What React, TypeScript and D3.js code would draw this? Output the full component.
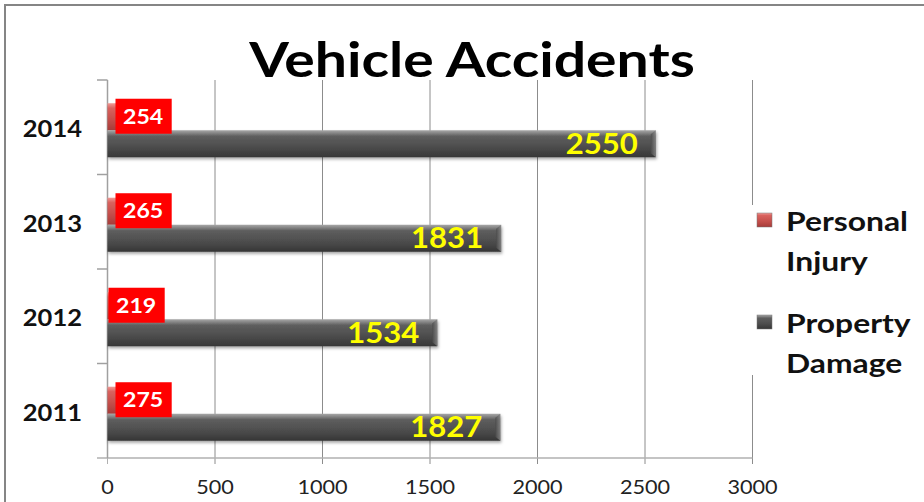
import React, { useEffect, useRef } from "react";
import * as d3 from "d3";

const years = ["2011", "2012", "2013", "2014"];
const personalInjury = [275, 219, 265, 254];
const propertyDamage = [1827, 1534, 1831, 2550];
const xTicks = [0, 500, 1000, 1500, 2000, 2500, 3000];
const seriesNames = [["Personal", "Injury"], ["Property", "Damage"]];
const title = "Vehicle Accidents";

const W = 924;
const H = 502;
const FONT = "Lato, 'Open Sans', sans-serif";
// label box left inset (px) per year, as placed in the original chart
const LABEL_INSET: Record<string, number> = { "2011": 8, "2012": 1, "2013": 8, "2014": 8 };

function stretch(sel: any, f: number) {
  sel.each(function (this: SVGTextElement) {
    const l = this.getComputedTextLength();
    this.setAttribute("textLength", String(l * f));
    this.setAttribute("lengthAdjust", "spacingAndGlyphs");
  });
}

export default function App() {
  const ref = useRef<SVGSVGElement | null>(null);

  useEffect(() => {
    const svg = d3.select(ref.current);
    svg.selectAll("*").remove();

    const defs = svg.append("defs");
    const gGray = defs.append("linearGradient").attr("id", "gGray").attr("x1", 0).attr("y1", 0).attr("x2", 0).attr("y2", 1);
    [["0%", "#a8a8a8"], ["12%", "#808080"], ["22%", "#5e5e5e"], ["60%", "#4e4e4e"], ["100%", "#363636"]].forEach(([o, c]) =>
      gGray.append("stop").attr("offset", o).attr("stop-color", c));
    const gRed = defs.append("linearGradient").attr("id", "gRed").attr("x1", 0).attr("y1", 0).attr("x2", 0).attr("y2", 1);
    [["0%", "#f09a96"], ["18%", "#d9625e"], ["60%", "#c44f4b"], ["100%", "#a63c39"]].forEach(([o, c]) =>
      gRed.append("stop").attr("offset", o).attr("stop-color", c));
    const gEnd = defs.append("linearGradient").attr("id", "gEnd").attr("x1", 0).attr("y1", 0).attr("x2", 1).attr("y2", 0);
    [["0%", "#4a4a4a"], ["100%", "#8a8a8a"]].forEach(([o, c]) =>
      gEnd.append("stop").attr("offset", o).attr("stop-color", c));
    const filt = defs.append("filter").attr("id", "shadow").attr("x", "-10%").attr("y", "-30%").attr("width", "120%").attr("height", "170%");
    filt.append("feDropShadow").attr("dx", 1).attr("dy", 2).attr("stdDeviation", 1.8).attr("flood-color", "#000").attr("flood-opacity", 0.35);

    // frame
    svg.append("rect").attr("x", 0).attr("y", 0).attr("width", W).attr("height", H).attr("fill", "#fff");
    svg.append("rect").attr("x", 5).attr("y", 5).attr("width", W + 20).attr("height", H + 20)
      .attr("fill", "#fff").attr("stroke", "#858585").attr("stroke-width", 2);

    const x = d3.scaleLinear().domain([0, 3000]).range([107.5, 752.5]);
    const y = d3.scaleBand().domain([...years].reverse()).range([80, 458]).paddingInner(0).paddingOuter(0);
    const step = y.step();
    const bh = step * 0.286;

    // gridlines
    svg.append("g").selectAll("line").data(xTicks.slice(1)).join("line")
      .attr("x1", (d) => x(d)).attr("x2", (d) => x(d)).attr("y1", 80).attr("y2", 464)
      .attr("stroke", "#8c8c8c").attr("stroke-width", 1);

    // x axis
    svg.append("line").attr("x1", 97).attr("x2", x(3000)).attr("y1", 458).attr("y2", 458)
      .attr("stroke", "#b0b0b0").attr("stroke-width", 1.5);
    svg.append("line").attr("x1", x(0)).attr("x2", x(0)).attr("y1", 458).attr("y2", 464).attr("stroke", "#b0b0b0");
    const tl = svg.append("g").selectAll("text").data(xTicks).join("text")
      .attr("x", (d) => x(d)).attr("y", 494).attr("text-anchor", "middle")
      .attr("font-family", FONT).attr("font-size", 18.5).attr("fill", "#222")
      .text((d) => String(d));
    stretch(tl, 1.17);

    // y axis
    svg.append("line").attr("x1", x(0)).attr("x2", x(0)).attr("y1", 80).attr("y2", 458)
      .attr("stroke", "#a0a0a0").attr("stroke-width", 1.5);
    const bounds = [...years].reverse().map((d) => y(d) as number);
    svg.append("g").selectAll("line").data(bounds).join("line")
      .attr("x1", 97).attr("x2", x(0)).attr("y1", (d) => d).attr("y2", (d) => d)
      .attr("stroke", "#a0a0a0").attr("stroke-width", 1.5);
    const yl = svg.append("g").selectAll("text").data(years).join("text")
      .attr("x", 82).attr("y", (d) => (y(d) as number) + step / 2 + 10)
      .attr("text-anchor", "end").attr("font-family", FONT).attr("font-weight", 700)
      .attr("font-size", 22).attr("fill", "#111").text((d) => d);
    stretch(yl, 1.16);

    const rows = years.map((yr, i) => ({ yr, pi: personalInjury[i], pd: propertyDamage[i] }));
    const cy = (d: { yr: string }) => (y(d.yr) as number) + step / 2 + 3;

    // bars
    const gb = svg.append("g");
    gb.selectAll("rect.red").data(rows).join("rect").attr("class", "red")
      .attr("x", x(0)).attr("y", (d) => cy(d) - bh).attr("width", (d) => x(d.pi) - x(0)).attr("height", bh)
      .attr("fill", "url(#gRed)").attr("filter", "url(#shadow)");
    gb.selectAll("rect.gray").data(rows).join("rect").attr("class", "gray")
      .attr("x", x(0)).attr("y", (d) => cy(d)).attr("width", (d) => x(d.pd) - x(0)).attr("height", bh)
      .attr("fill", "url(#gGray)").attr("filter", "url(#shadow)");
    // bevel at bar end
    gb.selectAll("path.end").data(rows).join("path").attr("class", "end")
      .attr("d", (d) => {
        const xe = x(d.pd), t = cy(d), b = t + bh;
        return `M${xe - 5},${t + 4} L${xe},${t} L${xe},${b} L${xe - 5},${b - 4} Z`;
      })
      .attr("fill", "url(#gEnd)").attr("opacity", 0.8);

    // red labels
    const lg = svg.append("g");
    rows.forEach((d) => {
      const g = lg.append("g");
      const inset = LABEL_INSET[d.yr];
      const rect = g.append("rect").attr("fill", "#ff0000");
      const t = g.append("text").attr("font-family", FONT).attr("font-weight", 700).attr("font-size", 21)
        .attr("fill", "#fff").attr("x", x(0) + inset + 7.5).attr("y", cy(d) - bh / 2 + 7).text(String(d.pi));
      const len = (t.node() as SVGTextElement).getComputedTextLength() * 1.1;
      stretch(t, 1.1);
      rect.attr("x", x(0) + inset).attr("y", cy(d) - bh / 2 - 18).attr("width", len + 16).attr("height", 35);
    });

    // yellow labels
    const yv = svg.append("g").selectAll("text").data(rows).join("text")
      .attr("x", (d) => x(d.pd) - 18).attr("y", (d) => cy(d) + bh / 2 + 10)
      .attr("text-anchor", "end").attr("font-family", FONT).attr("font-weight", 700)
      .attr("font-size", 28.5).attr("fill", "#ffff00").text((d) => String(d.pd));
    stretch(yv, 1.09);

    // legend
    svg.append("rect").attr("x", 750).attr("y", 205).attr("width", 174).attr("height", 170).attr("fill", "#fff");
    const legY = [221, 323];
    const legFill = ["url(#gRed)", "url(#gGray)"];
    seriesNames.forEach((lines, i) => {
      svg.append("rect").attr("x", 757).attr("y", legY[i] - 8).attr("width", 15).attr("height", 14)
        .attr("fill", legFill[i]).attr("stroke", "#777").attr("stroke-width", 0.5);
      lines.forEach((ln, j) => {
        const t = svg.append("text").attr("x", 786).attr("y", legY[i] + 10 + j * 40)
          .attr("font-family", FONT).attr("font-weight", 700).attr("font-size", 26.5).attr("fill", "#111").text(ln);
        stretch(t, 1.2);
      });
    });

    // title
    const tt = svg.append("text").attr("x", 472).attr("y", 77).attr("text-anchor", "middle")
      .attr("font-family", FONT).attr("font-weight", 700).attr("font-size", 48).attr("fill", "#000").text(title);
    stretch(tt, 1.19);
  }, []);

  return <svg ref={ref} width={W} height={H} style={{ position: "absolute", left: 0, top: 0 }} />;
}
